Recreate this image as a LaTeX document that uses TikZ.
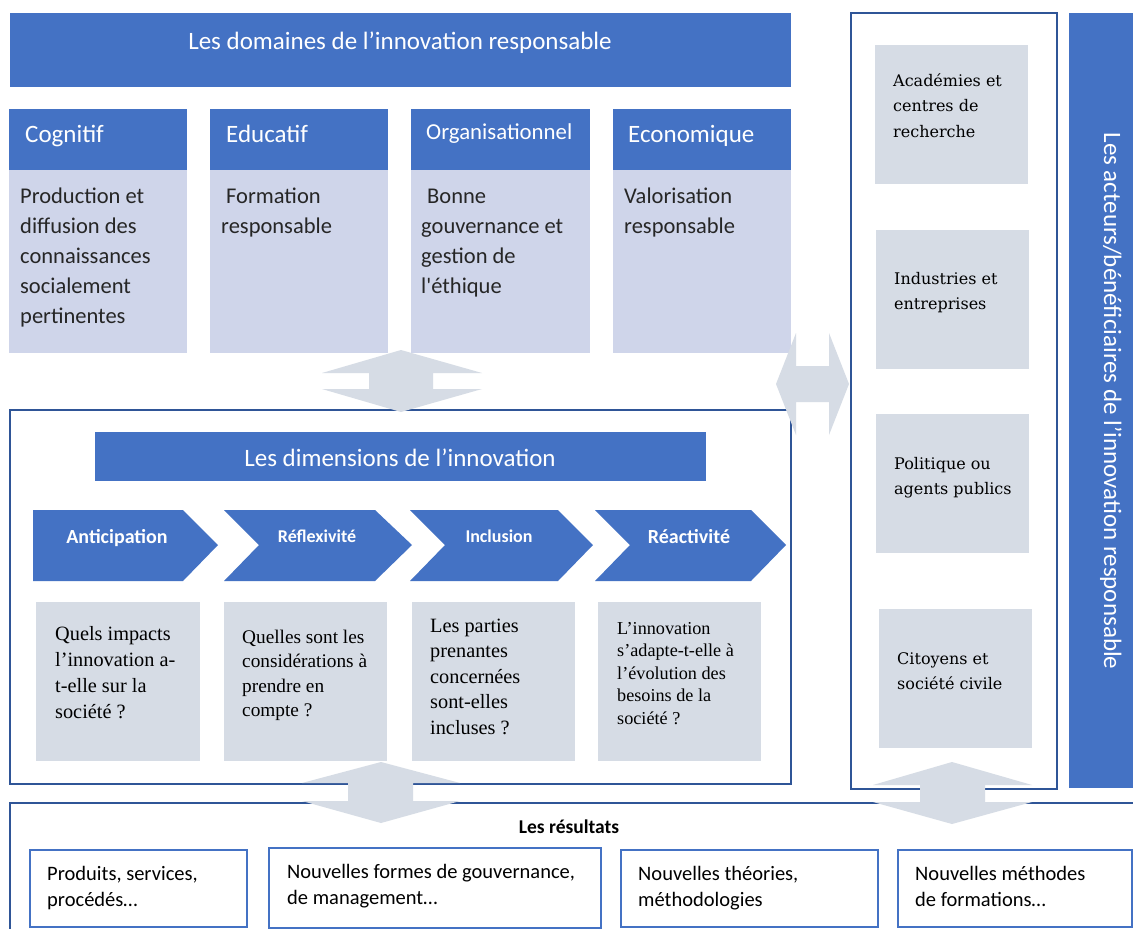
\documentclass[tikz,border=0pt]{standalone}
\usepackage{fontspec}
\setmainfont{Carlito}
\newfontfamily\tnr{Liberation Serif}
\newfontfamily\csb{DejaVu Serif}
\definecolor{cblue}{HTML}{4472C4}
\definecolor{clav}{HTML}{CFD5EA}
\definecolor{cgray}{HTML}{D6DCE5}
\definecolor{cdark}{HTML}{2F5597}
\begin{document}
\begin{tikzpicture}[x=1pt,y=-1pt,
  rbox/.style={inner sep=0pt, outer sep=0pt, anchor=north west},
  bluebox/.style={rbox, fill=cblue},
  lavbox/.style={rbox, fill=clav},
  graybox/.style={rbox, fill=cgray},
  framebox/.style={rbox, draw=cdark, line width=2pt},
  resbox/.style={rbox, draw=cblue, line width=1.8pt, fill=white},
  wtitle/.style={text=white, inner sep=0pt, font=\fontsize{25}{30}\selectfont, anchor=base},
  hdr/.style={text=white, inner sep=0pt, font=\fontsize{25}{30}\selectfont, anchor=base west},
  body/.style={text=black!85, inner sep=0pt, align=left, anchor=base west, font=\fontsize{22.5}{30}\selectfont},
  chev/.style={fill=cblue},
  chevtxt/.style={text=white, inner sep=0pt, anchor=base, font=\bfseries\fontsize{20}{24}\selectfont},
  qtxt/.style={text=black, inner sep=0pt, align=left, anchor=base west},
  acttxt/.style={text=black, inner sep=0pt, align=left, anchor=base west, font=\csb\fontsize{16}{25.5}\selectfont},
  restxt/.style={text=black, inner sep=0pt, align=left, anchor=base west, font=\fontsize{20.5}{26}\selectfont},
  darrow/.style={fill=cgray}
]
\useasboundingbox (0,0) rectangle (1133,929);
\fill[white] (0,0) rectangle (1133,929);

% ---------- Top banner
\node[bluebox, minimum width=781pt, minimum height=74pt] (top) at (10,13) {};
\node[wtitle] (toptxt) at (400,49) {Les domaines de l’innovation responsable};

% ---------- Domain columns
\node[bluebox, minimum width=178pt, minimum height=61pt] (h1) at (9,109) {};
\node[bluebox, minimum width=178pt, minimum height=61pt] (h2) at (210,109) {};
\node[bluebox, minimum width=179pt, minimum height=61pt] (h3) at (411,109) {};
\node[bluebox, minimum width=178pt, minimum height=61pt] (h4) at (613,109) {};
\node[lavbox, minimum width=178pt, minimum height=183pt] (b1) at (9,170) {};
\node[lavbox, minimum width=178pt, minimum height=183pt] (b2) at (210,170) {};
\node[lavbox, minimum width=179pt, minimum height=183pt] (b3) at (411,170) {};
\node[lavbox, minimum width=178pt, minimum height=183pt] (b4) at (613,170) {};
\node[hdr] (h1t) at (25,142) {Cognitif};
\node[hdr] (h2t) at (226,142) {Educatif};
\node[hdr, font=\fontsize{22.8}{28}\selectfont] (h3t) at (426,139) {Organisationnel};
\node[hdr] (h4t) at (628,142) {Economique};
% multi-line nodes: base anchor = baseline of last line
\node[body] (b1t) at (20,323) {Production et\\diffusion des\\connaissances\\socialement\\pertinentes};
\node[body] (b2t) at (221,233) {\hspace*{5pt}Formation\\responsable};
\node[body] (b3t) at (421,293) {\hspace*{6pt}Bonne\\gouvernance et\\gestion de\\l\textquotesingle éthique};
\node[body] (b4t) at (624,233) {Valorisation\\responsable};

% ---------- Dimensions box
\node[framebox, minimum width=781pt, minimum height=374pt] (dim) at (10,410) {};
\node[bluebox, minimum width=611pt, minimum height=49pt] (dimt) at (95,432) {};
\node[wtitle] (dimtxt) at (400,466) {Les dimensions de l’innovation};

\fill[chev] (33,510) -- (183,510) -- (218,545) -- (183,581) -- (33,581) -- cycle;
\fill[chev] (224,510) -- (375,510) -- (412,545) -- (375,581) -- (224,581) -- (259,545) -- cycle;
\fill[chev] (410,510) -- (558,510) -- (593,545) -- (558,581) -- (410,581) -- (445,545) -- cycle;
\fill[chev] (595,510) -- (751,510) -- (786,545) -- (751,581) -- (595,581) -- (630,545) -- cycle;
\node[chevtxt] (c1) at (117,543) {Anticipation};
\node[chevtxt, font=\bfseries\fontsize{18}{22}\selectfont] (c2) at (317,542) {Réflexivité};
\node[chevtxt, font=\bfseries\fontsize{18}{22}\selectfont] (c3) at (499,542) {Inclusion};
\node[chevtxt] (c4) at (689,543) {Réactivité};

\node[graybox, minimum width=164pt, minimum height=159pt] (q1) at (36,602) {};
\node[graybox, minimum width=163pt, minimum height=159pt] (q2) at (224,602) {};
\node[graybox, minimum width=163pt, minimum height=159pt] (q3) at (412,602) {};
\node[graybox, minimum width=163pt, minimum height=159pt] (q4) at (598,602) {};
\node[qtxt, font=\tnr\fontsize{20.3}{25.7}\selectfont] (q1t) at (55,718) {Quels impacts\\l’innovation a-\\t-elle sur la\\société ?};
\node[qtxt, font=\tnr\fontsize{19.3}{24.5}\selectfont] (q2t) at (242,716.5) {Quelles sont les\\considérations à\\prendre en\\compte ?};
\node[qtxt, font=\tnr\fontsize{20.3}{25.5}\selectfont] (q3t) at (430,734) {Les parties\\prenantes\\concernées\\sont-elles\\incluses ?};
\node[qtxt, font=\tnr\fontsize{18.2}{22.5}\selectfont] (q4t) at (617,724) {L’innovation\\s’adapte-t-elle à\\l’évolution des\\besoins de la\\société ?};

% ---------- Actors column
\node[framebox, minimum width=206pt, minimum height=776pt] (act) at (851,13) {};
\node[graybox, minimum width=153pt, minimum height=139pt] (a1) at (875,45) {};
\node[graybox, minimum width=153pt, minimum height=139pt] (a2) at (876,230) {};
\node[graybox, minimum width=153pt, minimum height=139pt] (a3) at (876,414) {};
\node[graybox, minimum width=153pt, minimum height=139pt] (a4) at (879,609) {};
\node[acttxt] (a1t) at (893,137) {Académies et\\centres de\\recherche};
\node[acttxt] (a2t) at (894,309.5) {Industries et\\entreprises};
\node[acttxt] (a3t) at (894,494.5) {Politique ou\\agents publics};
\node[acttxt] (a4t) at (897,689.5) {Citoyens et\\société civile};
\node[bluebox, minimum width=64pt, minimum height=775pt] (actbar) at (1069,13) {};
\node[text=white, inner sep=0pt, rotate=-90, font=\fontsize{25}{30}\selectfont] (actbart) at (1111,401) {Les acteurs/bénéficiaires de l’innovation responsable};

% ---------- Results
\node[rbox, draw=cdark, line width=2pt, minimum width=1140pt, minimum height=150pt] (res) at (10,803) {};
\node[text=black, inner sep=0pt, anchor=base, font=\bfseries\fontsize{19.5}{24}\selectfont] (restitle) at (569,833) {Les résultats};
\node[resbox, minimum width=217pt, minimum height=77pt] (r1) at (30,850) {};
\node[resbox, minimum width=332pt, minimum height=80pt] (r2) at (269,848) {};
\node[resbox, minimum width=257pt, minimum height=77pt] (r3) at (621,850) {};
\node[resbox, minimum width=234pt, minimum height=77pt] (r4) at (898,850) {};
\node[restxt] (r1t) at (47,906) {Produits, services,\\procédés…};
\node[restxt] (r2t) at (287,904) {Nouvelles formes de gouvernance,\\de management…};
\node[restxt] (r3t) at (638,906) {Nouvelles théories,\\méthodologies};
\node[restxt] (r4t) at (915,906) {Nouvelles méthodes\\de formations…};

% ---------- Double arrows
\fill[darrow] (401,350) -- (482,373) -- (433,373) -- (433,389) -- (482,389) -- (401,412) -- (322,389) -- (369,389) -- (369,373) -- (322,373) -- cycle;
\fill[darrow] (776,384) -- (796,333) -- (796,366) -- (829,366) -- (829,333) -- (849,384) -- (829,435) -- (829,402) -- (796,402) -- (796,435) -- cycle;
\fill[darrow] (381,762) -- (460,783) -- (413,783) -- (413,801) -- (460,801) -- (381,823) -- (302,801) -- (348,801) -- (348,783) -- (302,783) -- cycle;
\fill[darrow] (952,762) -- (1032,785) -- (985,785) -- (985,802) -- (1032,802) -- (952,824) -- (873,802) -- (920,802) -- (920,785) -- (873,785) -- cycle;
\end{tikzpicture}
\end{document}
